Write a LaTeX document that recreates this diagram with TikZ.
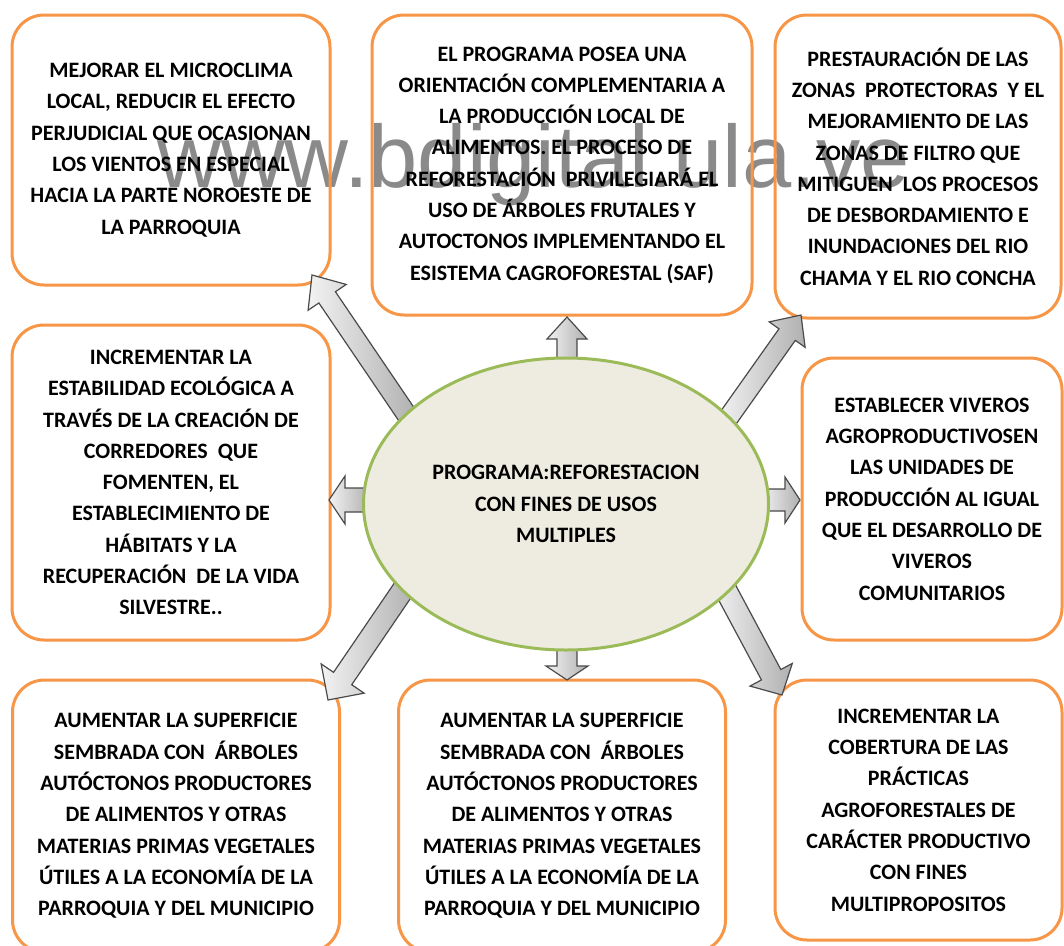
\documentclass[tikz,border=0pt]{standalone}
\usepackage{fontspec}
\setmainfont{Carlito}
\newfontfamily\wmfont{Liberation Sans}
\usetikzlibrary{calc,shapes.geometric}
\definecolor{boxorange}{HTML}{F79646}
\definecolor{ellfill}{HTML}{EEECE1}
\definecolor{ellgreen}{HTML}{9BBB59}
\definecolor{wmgray}{HTML}{8A8A8A}
\definecolor{arrline}{HTML}{4A4A4A}
\tikzset{
  goalbox/.style={draw=boxorange, line width=3pt, rounded corners=32pt, align=center,
    font=\bfseries\fontsize{22}{31.3}\selectfont, inner sep=0pt},
  centre/.style={ellipse, draw=ellgreen, fill=ellfill, line width=3pt, align=center,
    font=\bfseries\fontsize{22}{31.3}\selectfont, inner sep=0pt,
    minimum width=405pt, minimum height=292pt},
  barrow/.style={draw=arrline, line width=1.2pt, left color=gray!10, right color=gray!62, line join=miter},
  watermark/.style={font=\wmfont\fontsize{88.5}{88.5}\selectfont, text=wmgray, anchor=base, inner sep=0pt}
}
% #1 base, #2 tip, #3 shaft half width, #4 head half width, #5 head length
\newcommand\bkarrow[5]{%
  \path[barrow] ($(#1)!#3!90:(#2)$)
    -- ($(#2)!#5!(#1)!#3!-90:(#1)$)
    -- ($(#2)!#5!(#1)!#4!-90:(#1)$)
    -- (#2)
    -- ($(#2)!#5!(#1)!#4!90:(#1)$)
    -- ($(#2)!#5!(#1)!#3!90:(#1)$)
    -- ($(#1)!#3!-90:(#2)$) -- cycle;}
\begin{document}
\begin{tikzpicture}[x=1pt, y=-1pt]
\useasboundingbox (0,0) rectangle (1064,945);
\fill[white] (0,0) rectangle (1064,945);

\node[watermark] (wm) at (533.5,187) {www.bdigital.ula.ve};

% goal boxes
\node[goalbox, minimum width=318pt, minimum height=270pt] (b1) at (171,150)
  {MEJORAR EL MICROCLIMA\\ LOCAL, REDUCIR EL EFECTO\\ PERJUDICIAL QUE OCASIONAN\\ LOS VIENTOS EN ESPECIAL\\ HACIA LA PARTE NOROESTE DE\\ LA PARROQUIA};
\node[goalbox, minimum width=380pt, minimum height=300pt] (b2) at (562,165)
  {EL PROGRAMA POSEA UNA\\ ORIENTACIÓN COMPLEMENTARIA A\\ LA PRODUCCIÓN LOCAL DE\\ ALIMENTOS. EL PROCESO DE\\ REFORESTACIÓN~ PRIVILEGIARÁ EL\\ USO DE ÁRBOLES FRUTALES Y\\ AUTOCTONOS IMPLEMENTANDO EL\\ ESISTEMA CAGROFORESTAL (SAF)};
\node[goalbox, minimum width=286pt, minimum height=303pt] (b3) at (918,166.5)
  {PRESTAURACIÓN DE LAS\\ ZONAS~ PROTECTORAS~ Y EL\\ MEJORAMIENTO DE LAS\\ ZONAS DE FILTRO QUE\\ MITIGUEN~ LOS PROCESOS\\ DE DESBORDAMIENTO E\\ INUNDACIONES DEL RIO\\ CHAMA Y EL RIO CONCHA};
\node[goalbox, minimum width=318pt, minimum height=315pt] (b4) at (171,482.5)
  {INCREMENTAR LA\\ ESTABILIDAD ECOLÓGICA A\\ TRAVÉS DE LA CREACIÓN DE\\ CORREDORES~ QUE\\ FOMENTEN, EL\\ ESTABLECIMIENTO DE\\ HÁBITATS Y LA\\ RECUPERACIÓN~ DE LA VIDA\\ SILVESTRE..};
\node[goalbox, minimum width=260pt, minimum height=282pt] (b5) at (932,499)
  {ESTABLECER VIVEROS\\ AGROPRODUCTIVOSEN\\ LAS UNIDADES DE\\ PRODUCCIÓN AL IGUAL\\ QUE EL DESARROLLO DE\\ VIVEROS\\ COMUNITARIOS};
\node[goalbox, minimum width=327pt, minimum height=272pt] (b6) at (176,816)
  {AUMENTAR LA SUPERFICIE\\ SEMBRADA CON~ ÁRBOLES\\ AUTÓCTONOS PRODUCTORES\\ DE ALIMENTOS Y OTRAS\\ MATERIAS PRIMAS VEGETALES\\ ÚTILES A LA ECONOMÍA DE LA\\ PARROQUIA Y DEL MUNICIPIO};
\node[goalbox, minimum width=327pt, minimum height=272pt] (b7) at (562,816)
  {AUMENTAR LA SUPERFICIE\\ SEMBRADA CON~ ÁRBOLES\\ AUTÓCTONOS PRODUCTORES\\ DE ALIMENTOS Y OTRAS\\ MATERIAS PRIMAS VEGETALES\\ ÚTILES A LA ECONOMÍA DE LA\\ PARROQUIA Y DEL MUNICIPIO};
\node[goalbox, minimum width=287pt, minimum height=260pt] (b8) at (918.5,810)
  {INCREMENTAR LA\\ COBERTURA DE LAS\\ PRÁCTICAS\\ AGROFORESTALES DE\\ CARÁCTER PRODUCTIVO\\ CON FINES\\ MULTIPROPOSITOS};

% arrow end points
\coordinate (upA) at (567,365);  \coordinate (upT) at (567,317);
\coordinate (dnA) at (567,643);  \coordinate (dnT) at (567,680);
\coordinate (lfA) at (370,500);  \coordinate (lfT) at (329,500);
\coordinate (rtA) at (761,500);  \coordinate (rtT) at (800,500);
\coordinate (nwA) at (409,418);  \coordinate (nwT) at (312,275);
\coordinate (neA) at (726,421);  \coordinate (neT) at (801,315);
\coordinate (swA) at (407,584);  \coordinate (swT) at (328,700);
\coordinate (seA) at (722,583);  \coordinate (seT) at (782,695);

\bkarrow{upA}{upT}{10pt}{20pt}{22pt}
\bkarrow{dnA}{dnT}{10pt}{21pt}{14pt}
\bkarrow{lfA}{lfT}{12pt}{24pt}{16pt}
\bkarrow{rtA}{rtT}{11pt}{23pt}{15pt}
\bkarrow{nwA}{nwT}{10pt}{23pt}{27pt}
\bkarrow{neA}{neT}{10pt}{22pt}{24pt}
\bkarrow{swA}{swT}{11pt}{26pt}{26pt}
\bkarrow{seA}{seT}{11pt}{24pt}{23pt}

\node[centre] (prog) at (566,504)
  {PROGRAMA:REFORESTACION\\ CON FINES DE USOS\\ MULTIPLES};
\end{tikzpicture}
\end{document}
